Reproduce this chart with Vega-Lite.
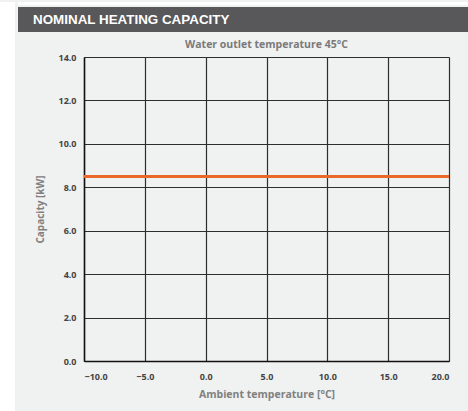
{
  "$schema": "https://vega.github.io/schema/vega-lite/v6.json",
  "background": "#f0f1f1",
  "padding": 0,
  "spacing": 0,
  "config": {
    "font": "Open Sans",
    "view": {"stroke": null},
    "concat": {"spacing": 0}
  },
  "hconcat": [
    {
      "width": 15,
      "height": 411,
      "view": {"fill": "#ffffff", "stroke": null},
      "data": {"values": [{}]},
      "mark": {"type": "point", "opacity": 0},
      "encoding": {}
    },
    {
      "spacing": 7,
      "vconcat": [
        {
          "spacing": 0,
          "vconcat": [
            {
              "width": 453,
              "height": 3,
              "view": {"fill": "#ffffff", "stroke": null},
              "data": {"values": [{}]},
              "mark": {"type": "point", "opacity": 0},
              "encoding": {}
            },
            {
              "width": 453,
              "height": 25,
              "view": {"fill": "#58585a", "stroke": null},
              "data": {"values": [{"label": "NOMINAL HEATING CAPACITY"}]},
              "mark": {"type": "text", "align": "left", "baseline": "middle", "x": 15, "y": 13, "font": "Liberation Sans", "fontWeight": "bold", "fontSize": 13.4, "color": "#ffffff"},
              "encoding": {"text": {"field": "label", "type": "nominal"}}
            }
          ]
        },
        {
          "spacing": 13,
          "hconcat": [
            {
              "width": 1,
              "height": 1,
              "data": {"values": [{}]},
              "mark": {"type": "point", "opacity": 0},
              "encoding": {}
            },
            {
              "width": 365,
              "height": 304,
              "view": {"fill": "#f0f1f1", "stroke": null},
              "title": {"text": "Water outlet temperature 45°C", "fontSize": 10.5, "fontWeight": "bold", "color": "#7a7a7a", "offset": 3, "font": "Open Sans"},
              "data": {"values": [
                {"ambient": -10, "capacity": 8.5},
                {"ambient": -5, "capacity": 8.5},
                {"ambient": 0, "capacity": 8.5},
                {"ambient": 5, "capacity": 8.5},
                {"ambient": 10, "capacity": 8.5},
                {"ambient": 15, "capacity": 8.5},
                {"ambient": 20, "capacity": 8.5}
              ]},
              "mark": {"type": "line", "color": "#e9682a", "strokeWidth": 3},
              "encoding": {
                "x": {
                  "field": "ambient", "type": "quantitative",
                  "scale": {"domain": [-10, 20], "nice": false, "zero": false},
                  "axis": {
                    "values": [-10, -5, 0, 5, 10, 15, 20], "format": ".1f",
                    "title": "Ambient temperature [°C]",
                    "grid": true, "gridColor": "#2e2e2e", "gridWidth": 1.2, "gridOpacity": 1,
                    "domainColor": "#111111", "domainWidth": 1.5, "ticks": false,
                    "labelFont": "Open Sans", "labelFontWeight": "bold", "labelFontSize": 9, "labelColor": "#444444", "labelPadding": 11,
                    "titleFont": "Open Sans", "titleFontWeight": "bold", "titleFontSize": 10.5, "titleColor": "#808080", "titlePadding": 8
                  }
                },
                "y": {
                  "field": "capacity", "type": "quantitative",
                  "scale": {"domain": [0, 14], "nice": false},
                  "axis": {
                    "values": [0, 2, 4, 6, 8, 10, 12, 14], "format": ".1f",
                    "title": "Capacity [kW]",
                    "grid": true, "gridColor": "#2e2e2e", "gridWidth": 1.2, "gridOpacity": 1,
                    "domainColor": "#111111", "domainWidth": 1.5, "ticks": false,
                    "labelFont": "Open Sans", "labelFontWeight": "bold", "labelFontSize": 9, "labelColor": "#444444", "labelPadding": 8,
                    "titleFont": "Open Sans", "titleFontWeight": "bold", "titleFontSize": 10, "titleColor": "#808080", "titlePadding": 12
                  }
                }
              }
            }
          ]
        }
      ]
    }
  ]
}
